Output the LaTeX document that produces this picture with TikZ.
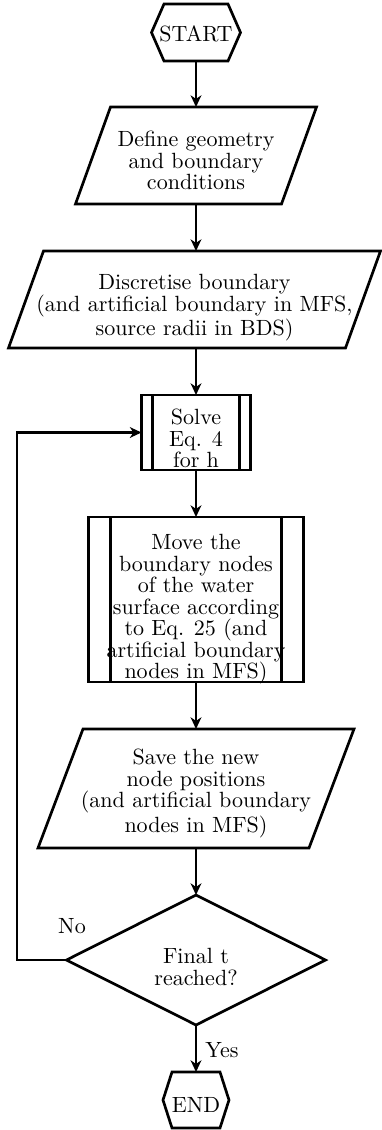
\documentclass[tikz,border=0pt]{standalone}
\usetikzlibrary{calc,arrows.meta}
\begin{document}
\begin{tikzpicture}[x=0.5585pt,y=-0.5585pt,
  line width=1.5pt,
  >={Stealth[length=6.5pt,width=6pt,inset=2pt]},
  frame/.style 2 args={draw=none,inner sep=0pt,outer sep=0pt,
    minimum width=#1*0.5585pt,minimum height=#2*0.5585pt},
  txt/.style={align=center,inner sep=0pt,font=\fontsize{10}{9.76}\selectfont,scale=1.23},
  lbl/.style={inner sep=0pt,font=\fontsize{10}{9.76}\selectfont,scale=1.23}]
\useasboundingbox (0,0) rectangle (382,1130);

% frames that carry the outlines and the connector ends
\node[frame={89}{57}]   (start) at (196,32.5) {};
\node[frame={241}{97}]  (geom)  at (196,155.5) {};
\node[frame={372}{97}]  (disc)  at (194.5,299.5) {};
\node[frame={109}{75}]  (solve) at (196,432.5) {};
\node[frame={215}{165}] (move)  at (196,599.5) {};
\node[frame={316}{119}] (save)  at (196,788.5) {};
\node[frame={259}{130}] (dec)   at (196,960) {};
\node[frame={66}{56}]   (stop)  at (196,1100) {};

% outlines
\draw (start.west) -- ($(start.north west)+(12.5,0)$) -- ($(start.north east)+(-12.5,0)$)
  -- (start.east) -- ($(start.south east)+(-12.5,0)$) -- ($(start.south west)+(12.5,0)$) -- cycle;
\draw (stop.west) -- ($(stop.north west)+(9,0)$) -- ($(stop.north east)+(-9,0)$)
  -- (stop.east) -- ($(stop.south east)+(-9,0)$) -- ($(stop.south west)+(9,0)$) -- cycle;
\draw ($(geom.north west)+(35,0)$) -- (geom.north east) -- ($(geom.south east)+(-35,0)$) -- (geom.south west) -- cycle;
\draw ($(disc.north west)+(35,0)$) -- (disc.north east) -- ($(disc.south east)+(-35,0)$) -- (disc.south west) -- cycle;
\draw ($(save.north west)+(45,0)$) -- (save.north east) -- ($(save.south east)+(-45,0)$) -- (save.south west) -- cycle;
\draw (solve.north west) rectangle (solve.south east);
\draw ($(solve.north west)+(11,0)$) -- ($(solve.south west)+(11,0)$);
\draw ($(solve.north east)+(-11,0)$) -- ($(solve.south east)+(-11,0)$);
\draw (move.north west) rectangle (move.south east);
\draw ($(move.north west)+(22,0)$) -- ($(move.south west)+(22,0)$);
\draw ($(move.north east)+(-22,0)$) -- ($(move.south east)+(-22,0)$);
\draw (dec.north) -- (dec.east) -- (dec.south) -- (dec.west) -- cycle;

% texts
\node[txt] (t-start) at ($(start)+(0,1)$) {START};
\node[txt] (t-geom)  at ($(geom)+(0,5)$) {Define geometry\\and boundary\\conditions};
\node[txt] (t-disc)  at ($(disc)+(0,8)$) {Discretise boundary\\(and artificial boundary in MFS,\\source radii in BDS)};
\node[txt] (t-solve) at ($(solve)+(0,6)$) {Solve\\Eq. 4\\for h};
\node[txt] (t-move)  at ($(move)+(0,10)$) {Move the\\boundary nodes\\of the water\\surface according\\to Eq. 25 (and\\artificial boundary\\nodes in MFS)};
\node[txt] (t-save)  at ($(save)+(0,5)$) {Save the new\\node positions\\(and artificial boundary\\nodes in MFS)};
\node[txt] (t-dec)   at ($(dec)+(0,7)$) {Final t\\reached?};
\node[txt] (t-stop)  at ($(stop)+(0,5)$) {END};

% connectors
\draw[->] (start) -- (geom);
\draw[->] (geom) -- (disc.north -| geom);
\draw[->] (disc.south -| solve) -- (solve);
\draw[->] (solve) -- (move);
\draw[->] (move) -- (save);
\draw[->] (save) -- (dec);
\draw[->] (dec) -- (stop);
\coordinate (loop) at (17,960);
\draw[->] (dec.west) -- (loop) |- (solve.west);

% branch labels
\node[lbl] (no)  at (72,926) {No};
\node[lbl] (yes) at (222,1050) {Yes};
\end{tikzpicture}
\end{document}
